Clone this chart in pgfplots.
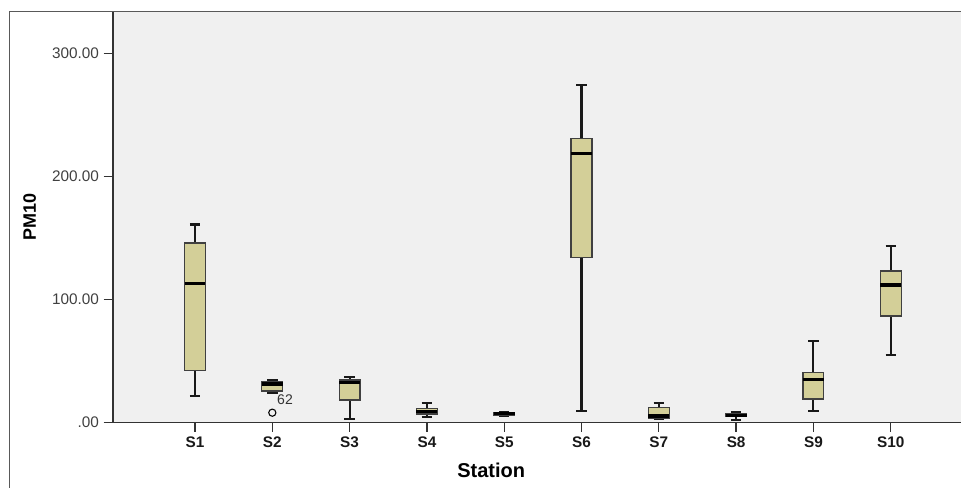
\documentclass[border=0pt]{standalone}
\usepackage{pgfplots}
\pgfplotsset{compat=1.18}
\usepgfplotslibrary{statistics}
\usepackage{fontspec}
\setmainfont{Liberation Sans}
\definecolor{boxfill}{RGB}{211,207,152}
\definecolor{bg}{RGB}{240,240,240}
\begin{document}
\begin{tikzpicture}
\clip (0pt,0pt) rectangle (720.75pt,366pt);
\draw[black!65, line width=1pt] (7pt,-5pt) -- (7pt,357.2pt) -- (730pt,357.2pt);
\begin{axis}[
  at={(84.75pt,49.1pt)}, anchor=south west,
  scale only axis, width=637.5pt, height=307.9pt,
  xmin=-0.061, xmax=10.935, ymin=0, ymax=333.7,
  axis background/.style={fill=bg},
  axis line style={black!80, line width=1pt},
  axis x line*=bottom, axis y line*=left,
  tick align=outside, major tick length=7pt,
  tick style={black!80, line width=1pt},
  xtick={1,2,3,4,5,6,7,8,9,10},
  xticklabels={S1,S2,S3,S4,S5,S6,S7,S8,S9,S10},
  ytick={0,100,200,300},
  yticklabels={.00,100.00,200.00,300.00},
  xticklabel style={font=\fontsize{11.5}{13}\selectfont\bfseries, text=black!90},
  yticklabel style={font=\fontsize{11.5}{13}\selectfont, text=black!75},
  xlabel={Station}, ylabel={PM10},
  xlabel style={font=\fontsize{15}{17}\selectfont\bfseries, at={(axis description cs:0.445,-0.116)}, anchor=center},
  ylabel style={font=\fontsize{13.5}{15}\selectfont\bfseries, at={(axis description cs:-0.098,0.5)}, anchor=center},
  boxplot/draw direction=y,
  boxplot/box extend=0.27,
  boxplot/whisker extend=0.135,
  boxplot/every box/.style={draw=black!75, fill=boxfill, line width=0.9pt},
  boxplot/every whisker/.style={black!90, line width=1.6pt},
  boxplot/every median/.style={black, line width=2.3pt},
]
\addplot[boxplot prepared={draw position=1, lower whisker=21.5, lower quartile=42, median=113, upper quartile=146, upper whisker=161}] coordinates {};
\addplot[boxplot prepared={draw position=2, lower whisker=23.7, lower quartile=25.6, median=31.3, upper quartile=33.4, upper whisker=34.6}, mark=o, mark size=2.7pt, mark options={black, line width=0.8pt}] table[row sep=\\, y index=0] {data\\ 8\\};
\addplot[boxplot prepared={draw position=3, lower whisker=2.8, lower quartile=18.3, median=32.7, upper quartile=34.5, upper whisker=36.7}] coordinates {};
\addplot[boxplot prepared={draw position=4, lower whisker=4.2, lower quartile=6.9, median=9, upper quartile=11.2, upper whisker=16}] coordinates {};
\addplot[boxplot prepared={draw position=5, lower whisker=5.6, lower quartile=6.2, median=7, upper quartile=7.8, upper whisker=8.4}] coordinates {};
\addplot[boxplot prepared={draw position=6, lower whisker=9.6, lower quartile=134, median=219, upper quartile=231, upper whisker=274.4}] coordinates {};
\addplot[boxplot prepared={draw position=7, lower whisker=2.6, lower quartile=3.4, median=5.3, upper quartile=12, upper whisker=15.8}] coordinates {};
\addplot[boxplot prepared={draw position=8, lower whisker=2, lower quartile=4.7, median=6, upper quartile=7.5, upper whisker=8.3}] coordinates {};
\addplot[boxplot prepared={draw position=9, lower whisker=9.6, lower quartile=19.1, median=34.6, upper quartile=40.8, upper whisker=66.3}] coordinates {};
\addplot[boxplot prepared={draw position=10, lower whisker=54.9, lower quartile=86.6, median=111.8, upper quartile=123.2, upper whisker=143.7}] coordinates {};
\node[anchor=west, font=\fontsize{10.5}{12}\selectfont, text=black!80, inner sep=0pt] at (axis cs:2.06,18.3) {62};
\end{axis}
\end{tikzpicture}
\end{document}
